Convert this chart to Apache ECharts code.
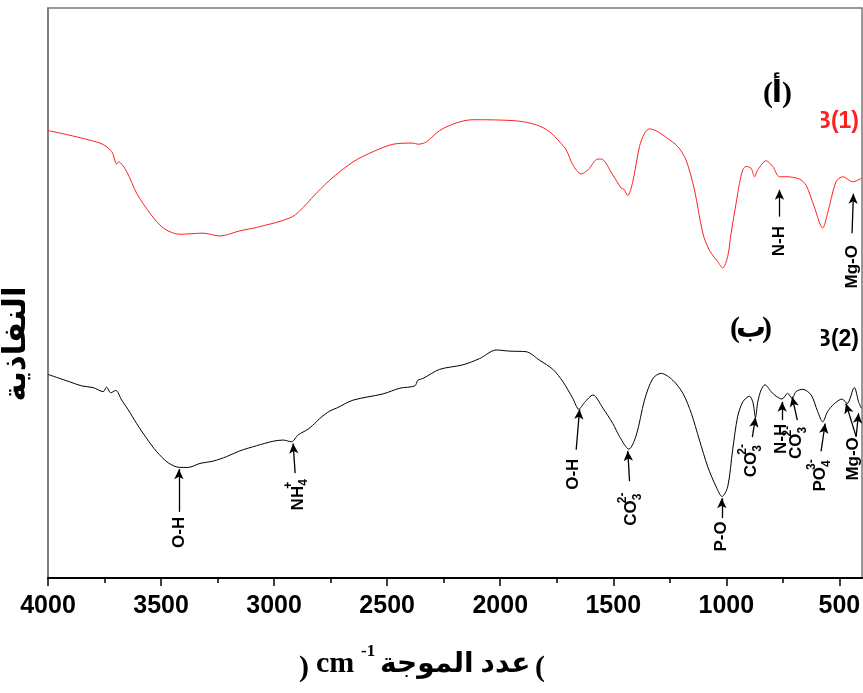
<!DOCTYPE html>
<html>
<head>
<meta charset="utf-8">
<script src="https://cdn.jsdelivr.net/npm/echarts@6/dist/echarts.min.js"></script>
<style>
html,body{margin:0;padding:0;background:#fff}
#chart{width:863px;height:693px}
</style>
</head>
<body>
<div id="chart"></div>
<script>
// spectrum (1) - red, wavenumber (cm-1) and transmittance (arb. units)
var wnA = [4000,3770,3718,3696,3688,3652,3608,3549,3490,3417,3314,3240,3152,3078,2923,2857,2835,2754,2651,2562,2474,2386,2364,2327,2268,2190,2121,1929,1840,1782,1737,1708,1679,1642,1612,1568,1553,1502,1465,1453,1436,1414,1384,1362,1340,1303,1266,1215,1178,1141,1104,1075,1038,1016,994,979,957,942,927,913,891,875,861,824,795,765,736,677,647,611,574,552,515,485,441,404];
var tA  = [78.5,76.3,74.8,72.6,73.0,71.3,67.5,64.0,61.4,60.3,60.5,60.0,60.9,61.5,63.3,65.6,66.6,69.8,73.0,74.8,76.1,76.3,76.1,76.5,78.5,79.9,80.4,80.2,79.5,78.3,76.5,75.1,72.5,70.9,71.6,73.5,73.5,70.7,68.4,68.2,67.1,69.5,75.7,78.0,78.8,78.3,77.3,75.7,73.3,68.1,60.5,57.5,55.5,54.4,56.4,60.5,65.7,69.2,71.6,72.2,71.9,70.4,71.6,73.2,72.2,70.4,70.4,70.0,68.9,65.1,61.4,64.0,69.5,70.4,69.5,70.1];

// spectrum (2) - black
var wnB = [3999,3903,3851,3800,3756,3741,3723,3700,3674,3645,3608,3564,3520,3468,3417,3380,3328,3270,3210,3152,3078,3004,2960,2923,2894,2850,2813,2798,2754,2724,2651,2518,2444,2378,2364,2342,2268,2165,2091,2017,1958,1885,1826,1767,1722,1679,1652,1627,1590,1546,1502,1472,1431,1398,1362,1325,1288,1237,1192,1155,1119,1082,1045,1019,994,972,950,927,898,883,871,861,846,829,802,780,754,729,709,692,662,625,596,574,552,522,488,466,434,415,403];
var tB  = [35.7,34.4,33.7,33.4,32.7,33.5,32.5,32.9,31.2,29.5,27.1,24.5,22.2,20.2,19.4,19.4,20.1,20.5,21.3,22.3,23.2,24.0,24.2,23.9,25.1,26.1,27.4,28.0,29.3,29.8,31.2,32.3,33.3,33.7,34.7,35.0,36.6,37.4,38.5,40.0,39.8,39.7,38.2,36.6,34.4,31.5,29.6,30.8,32.1,29.8,27.1,24.8,22.6,25.1,31.2,35.0,35.9,34.7,32.4,28.9,24.2,19.5,16.0,14.3,16.0,22.5,28.3,30.9,31.9,30.9,28.2,30.9,33.0,33.9,32.7,31.9,31.4,32.4,31.5,32.7,33.1,32.1,29.2,27.4,29.2,30.6,31.4,30.6,33.4,30.9,29.8];

var majorTicks = [4000,3500,3000,2500,2000,1500,1000,500];
var minorTicks = [3750,3250,2750,2250,1750,1250,750];

// arrows: which spectrum, tail and tip (data coords)
var arrowSeries = [0,0,1,1,1,1,1,1,1,1,1,1,1];
var arrowTail = [[765,63.4],[444,60.5],[3421,11.6],[2907,18.4],[1664,22.5],[1428,17.0],[1020,10.5],[885,24.7],[753,27.7],[686,27.7],[581,22.2],[426,24.8],[426,24.8]];
var arrowTip  = [[765,68.1],[438,67.4],[3421,19.1],[2916,23.6],[1649,29.6],[1436,22.3],[1020,14.0],[871,28.2],[753,30.9],[709,31.8],[563,27.1],[471,30.6],[415,28.9]];

// band labels (vertical text): main part, subscript, superscript, centre
var labelMain = ['N-H','Mg-O','O-H','NH','O-H','CO','P-O','CO','N-H','CO','PO','Mg-O'];
var labelSub  = ['','','','4','','3','','3','','3','4',''];
var labelSup  = ['','','','+','','2-','','2-','','2-','3-',''];
var labelPos  = [[765,59.1],[443,54.6],[3421,8.0],[2895,14.6],[1676,18.2],[1419,12.0],[1022,7.3],[889,20.5],[756,24.4],[690,23.7],[584,17.9],[438,20.9]];

function pairs(xs, ys) {
    return xs.map(function (x, i) { return [x, ys[i]]; });
}

var chart = echarts.init(document.getElementById('chart'));

var marksA = [], marksB = [];
for (var i = 0; i < arrowTip.length; i++) {
    var seg = [{coord: arrowTail[i]}, {coord: arrowTip[i]}];
    if (arrowSeries[i] == 0) marksA.push(seg); else marksB.push(seg);
}

var markStyle = {
    silent: true,
    symbol: ['none', 'arrow'],
    symbolSize: [7, 10],
    label: {show: false},
    lineStyle: {color: '#000', width: 1.3, type: 'solid'},
    emphasis: {disabled: true},
    animation: false
};

var option = {
    animation: false,
    grid: {left: 48, right: 1, top: 8, bottom: 115, show: true, borderColor: '#777', borderWidth: 1.5, outerBoundsMode: 'none', containLabel: false},
    xAxis: [{
        type: 'value',
        inverse: true,
        min: 400,
        max: 4000,
        position: 'bottom',
        axisLine: {lineStyle: {color: '#000', width: 2}},
        axisTick: {customValues: majorTicks, length: 8, lineStyle: {color: '#000', width: 1.5}},
        axisLabel: {
            customValues: majorTicks,
            formatter: function (v) { return String(v); },
            margin: 16,
            color: '#000',
            fontFamily: '"Liberation Sans", Arial',
            fontWeight: 'bold',
            fontSize: 25
        },
        splitLine: {show: false}
    }, {
        type: 'value',
        inverse: true,
        min: 400,
        max: 4000,
        position: 'bottom',
        axisLine: {show: false},
        axisTick: {customValues: minorTicks, length: 5, lineStyle: {color: '#000', width: 1.5}},
        axisLabel: {show: false},
        splitLine: {show: false}
    }],
    yAxis: {
        type: 'value',
        min: 0,
        max: 100,
        axisLine: {show: true, lineStyle: {color: '#777', width: 1.5}},
        axisTick: {show: false},
        axisLabel: {show: false},
        splitLine: {show: false}
    },
    series: [{
        type: 'line',
        data: pairs(wnA, tA),
        showSymbol: false,
        smooth: 0.3,
        lineStyle: {color: '#ff1f1f', width: 1},
        markLine: Object.assign({data: marksA}, markStyle)
    }, {
        type: 'line',
        data: pairs(wnB, tB),
        showSymbol: false,
        smooth: 0.3,
        lineStyle: {color: '#000', width: 1},
        markLine: Object.assign({data: marksB}, markStyle)
    }]
};
chart.setOption(option);

// text measuring
var ctx = document.createElement('canvas').getContext('2d');
function textWidth(s, size, family) {
    ctx.font = 'bold ' + size + 'px ' + (family || '"Liberation Sans", Arial');
    return ctx.measureText(s).width;
}

var graphics = [];
var bandFont = {fontFamily: '"Liberation Sans", Arial', fontWeight: 'bold', fill: '#000'};
for (var j = 0; j < labelMain.length; j++) {
    var p = chart.convertToPixel({gridIndex: 0}, labelPos[j]);
    var wMain = textWidth(labelMain[j], 17);
    var wSub = labelSub[j] ? textWidth(labelSub[j], 12) : 0;
    var x0 = -(wMain + wSub) / 2;
    var kids = [{
        type: 'text', x: x0, y: 0,
        style: Object.assign({text: labelMain[j], fontSize: 17, align: 'left', verticalAlign: 'middle'}, bandFont)
    }];
    if (labelSub[j]) {
        kids.push({type: 'text', x: x0 + wMain, y: 6,
            style: Object.assign({text: labelSub[j], fontSize: 12, align: 'left', verticalAlign: 'middle'}, bandFont)});
        kids.push({type: 'text', x: x0 + wMain - 3, y: -9,
            style: Object.assign({text: labelSup[j], fontSize: 12, align: 'left', verticalAlign: 'middle'}, bandFont)});
    }
    graphics.push({type: 'group', x: p[0], y: p[1], rotation: Math.PI / 2, children: kids});
}

var serifFamily = '"Liberation Serif", "Times New Roman", "DejaVu Sans"';
var serifBold = {fontFamily: serifFamily, fontWeight: 'bold', fill: '#000'};
function txt(s, x, y, size, align, extra) {
    return Object.assign({type: 'text', x: x, y: y,
        style: Object.assign({text: s, fontSize: size, align: align, verticalAlign: 'middle'}, serifBold)}, extra || {});
}

// panel tags, brackets drawn apart so bidi does not flip them
graphics.push(txt('(', 768, 94, 30, 'center'));
graphics.push(txt('أ', 777, 94, 30, 'center'));
graphics.push(txt(')', 787, 94, 30, 'center'));
graphics.push(txt('(', 735, 329, 30, 'center'));
graphics.push(txt('ب', 751, 329, 30, 'center'));
graphics.push(txt(')', 767, 329, 30, 'center'));

var tagW = textWidth('B(1)', 23);
var tagB = textWidth('B', 23);
graphics.push({type: 'text', x: 859, y: 122, style: {text: 'B(1)', fontSize: 23, fontWeight: 'bold', fontFamily: '"Liberation Sans", Arial', fill: '#ff1f1f', align: 'right', verticalAlign: 'middle'}});
graphics.push({type: 'text', x: 859, y: 340, style: {text: 'B(2)', fontSize: 23, fontWeight: 'bold', fontFamily: '"Liberation Sans", Arial', fill: '#000', align: 'right', verticalAlign: 'middle'}});
// the left part of the B is hidden behind the tag box in the original
var maskRight = 859 - tagW + tagB * 0.4;
graphics.push({type: 'rect', shape: {x: maskRight - 20, y: 106, width: 20, height: 32}, style: {fill: '#fff'}, z: 100});
graphics.push({type: 'rect', shape: {x: maskRight - 20, y: 324, width: 20, height: 32}, style: {fill: '#fff'}, z: 100});

// axis titles
var yTitle = 'النفاذية';
var yTitleSize = Math.round(24 * 114 / textWidth(yTitle, 24, serifFamily));
graphics.push(txt(yTitle, 17, 344, yTitleSize, 'center', {rotation: Math.PI / 2}));

var xArabic = 'عدد الموجة';
var xArabicSize = Math.round(26 * 150 / textWidth(xArabic, 26, serifFamily));
graphics.push(txt(')', 304, 668, 30, 'center'));
graphics.push(txt('cm', 316, 664, 30, 'left'));
graphics.push(txt('-1', 361, 652, 17, 'left'));
graphics.push(txt(xArabic, 380, 665, xArabicSize, 'left'));
graphics.push(txt('(', 540, 668, 30, 'center'));

chart.setOption({graphic: graphics});
</script>
</body>
</html>
